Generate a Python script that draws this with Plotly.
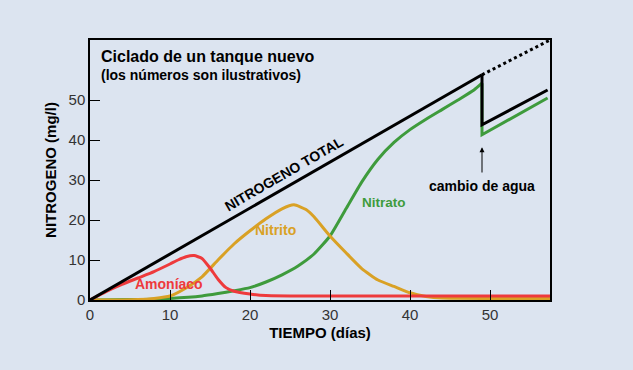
import plotly.graph_objects as go

# ---- data ----
total_days = [0, 49]
total_vals = [0, 56.3]
total_after_days = [49, 49, 57.2]
total_after_vals = [56.3, 43.8, 52.5]
dotted_days = [49, 57.5]
dotted_vals = [56.3, 65]

nitrate_days = [0, 5, 10, 14, 16, 18, 20, 22, 24, 26, 28, 30, 32, 34, 36, 38, 40, 42, 44, 46, 48, 49]
nitrate_vals = [0, 0.1, 0.4, 1, 1.6, 2.3, 3.1, 4.5, 6.3, 8.5, 11.5, 16, 22.8, 29.6, 35.2, 39.4, 42.6, 45.2, 47.6, 50, 52.5, 54.2]
nitrate_after_days = [49, 49, 57.2]
nitrate_after_vals = [54.2, 41.3, 50.5]

nitrite_days = [0, 4, 6, 8, 10, 12, 14, 16, 18, 20, 22, 24, 25.5, 27, 28, 30, 32, 34, 36, 38, 40, 42, 44, 57.5]
nitrite_vals = [0, 0, 0.1, 0.4, 1, 3, 5.8, 10, 14, 17.3, 20.3, 22.8, 23.8, 22.6, 20.8, 16, 11.8, 7.8, 5, 3.4, 1.8, 0.9, 0.5, 0.4]

ammonia_days = [0, 2, 4, 6, 8, 10, 11, 12, 13, 14, 15, 16, 17, 18, 20, 22, 25, 57.5]
ammonia_vals = [0, 2.1, 3.9, 5.5, 7.1, 9.0, 10.0, 10.8, 11.1, 10.4, 8.0, 5.2, 3.1, 2.2, 1.5, 1.1, 1, 1]

x_ticks = [0, 10, 20, 30, 40, 50]
y_ticks = [0, 10, 20, 30, 40, 50]

RED = "#ee3a3c"
GOLD = "#d9a125"
GREEN = "#3e9b3c"
BG = "#dce4f0"
FONT = "Liberation Sans, Arial, sans-serif"

fig = go.Figure()
fig.add_trace(go.Scatter(x=nitrate_days, y=nitrate_vals, mode="lines", line=dict(color=GREEN, width=3, shape="spline", smoothing=0.5)))
fig.add_trace(go.Scatter(x=nitrate_after_days, y=nitrate_after_vals, mode="lines", line=dict(color=GREEN, width=3)))
fig.add_trace(go.Scatter(x=nitrite_days, y=nitrite_vals, mode="lines", line=dict(color=GOLD, width=3, shape="spline", smoothing=0.5)))
fig.add_trace(go.Scatter(x=ammonia_days, y=ammonia_vals, mode="lines", line=dict(color=RED, width=3, shape="spline", smoothing=0.5)))
fig.add_trace(go.Scatter(x=total_days, y=total_vals, mode="lines", line=dict(color="black", width=3)))
fig.add_trace(go.Scatter(x=total_after_days, y=total_after_vals, mode="lines", line=dict(color="black", width=3)))
fig.add_trace(go.Scatter(x=dotted_days, y=dotted_vals, mode="lines", line=dict(color="black", width=3, dash="dot")))

ann = [
    dict(x=0.02, y=0.935, xref="paper", yref="paper", text="<b>Ciclado de un tanque nuevo</b>", font=dict(size=16, color="black"), xanchor="left", yanchor="middle", showarrow=False),
    dict(x=0.02, y=0.865, xref="paper", yref="paper", text="<b>(los números son ilustrativos)</b>", font=dict(size=14, color="black"), xanchor="left", yanchor="middle", showarrow=False),
    dict(x=24.2, y=31.5, text="<b>NITROGENO TOTAL</b>", textangle=-30, font=dict(size=14, color="black"), showarrow=False),
    dict(x=23.2, y=17.5, text="<b>Nitrito</b>", font=dict(size=14, color=GOLD), showarrow=False),
    dict(x=9.9, y=4, text="<b>Amoníaco</b>", font=dict(size=14, color=RED), showarrow=False),
    dict(x=36.8, y=24.3, text="<b>Nitrato</b>", font=dict(size=13.5, color=GREEN), showarrow=False),
    dict(x=49, y=28.5, text="<b>cambio de agua</b>", font=dict(size=14, color="black"), showarrow=False),
    dict(x=49, y=38.2, ax=49, ay=31.5, axref="x", ayref="y", text="", showarrow=True, arrowhead=2, arrowsize=1, arrowwidth=1, arrowcolor="black"),
]

fig.update_layout(
    width=633, height=370,
    margin=dict(l=90, r=83, t=40, b=70),
    paper_bgcolor=BG, plot_bgcolor=BG,
    showlegend=False,
    font=dict(family=FONT, color="black"),
    annotations=ann,
    xaxis=dict(range=[0, 57.5], tickvals=x_ticks, ticks="inside", ticklen=10, tickwidth=1, tickcolor="black",
               showline=True, linecolor="black", linewidth=1.5, mirror=True, showgrid=False, zeroline=False,
               tickfont=dict(size=15, color="#333333"),
               title=dict(text="<b>TIEMPO (días)</b>", font=dict(size=15, color="black"), standoff=6)),
    yaxis=dict(range=[0, 65], tickvals=y_ticks, ticks="inside", ticklen=10, tickwidth=1, tickcolor="black",
               showline=True, linecolor="black", linewidth=1.5, mirror=True, showgrid=False, zeroline=False,
               tickfont=dict(size=15, color="#333333"),
               title=dict(text="<b>NITROGENO (mg/l)</b>", font=dict(size=15, color="black"), standoff=8)),
)

fig.write_html("out.html", config={"displayModeBar": False},
               post_script="document.body.style.margin='0';document.body.style.background='%s';" % BG)
